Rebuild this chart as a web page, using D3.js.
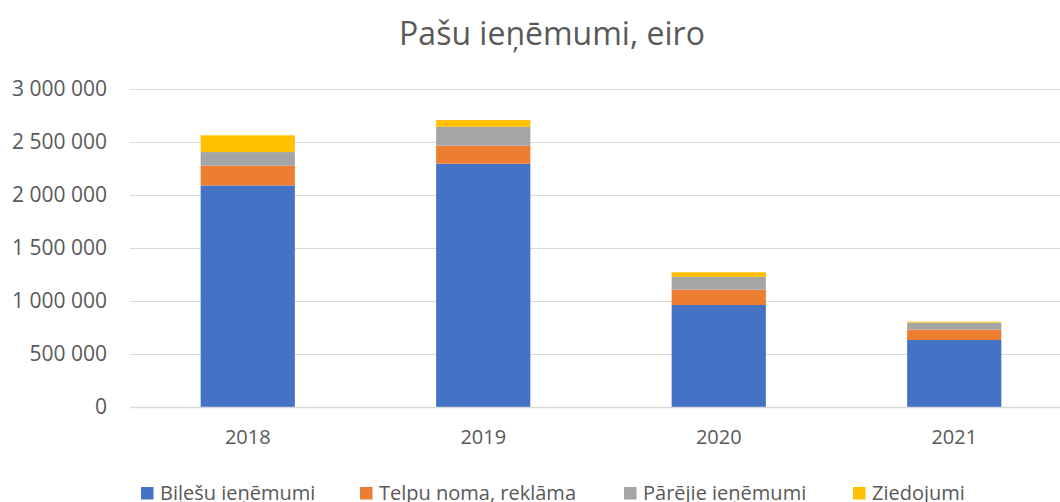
<!DOCTYPE html>
<html>
<head>
<meta charset="utf-8">
<script src="https://cdn.jsdelivr.net/npm/d3@7"></script>
<style>
  body { margin: 0; background: #fff; }
  svg { display: block; font-family: "Open Sans", sans-serif; }
</style>
</head>
<body>
<svg id="chart"></svg>
<script>
// The data
var years = ["2018", "2019", "2020", "2021"];
var seriesNames = ["Biļešu ieņēmumi", "Telpu noma, reklāma", "Pārējie ieņēmumi", "Ziedojumi"];
var bilesu = [2090000, 2295000, 962000, 632000];
var telpu = [186000, 170000, 145000, 98000];
var parejie = [129000, 179000, 120000, 66000];
var ziedojumi = [158000, 63000, 44000, 9000];
var yTicks = [0, 500000, 1000000, 1500000, 2000000, 2500000, 3000000];

var colors = ["#4472c4", "#ed7d31", "#a5a5a5", "#ffc000"];

// Sizes (careful: "top" is taken by window.top)
var width = 1060,
    height = 502,
    plotLeft = 130,
    plotRight = 1072,
    plotTop = 89,
    plotBottom = 407;

var svg = d3.select("svg#chart")
  .attr("width", width)
  .attr("height", height);

// rows for stacking
var rows = years.map(function(y, i) {
  return { year: y, s0: bilesu[i], s1: telpu[i], s2: parejie[i], s3: ziedojumi[i] };
});

var stack = d3.stack().keys(["s0", "s1", "s2", "s3"]);
var layers = stack(rows);

var x = d3.scaleBand()
  .domain(years)
  .range([plotLeft, plotRight])
  .paddingInner(0.6)
  .paddingOuter(0.3);

var y = d3.scaleLinear()
  .domain([0, 3000000])
  .range([plotBottom, plotTop]);

// Title
svg.append("text")
  .attr("x", 552)
  .attr("y", 45)
  .attr("text-anchor", "middle")
  .style("font-size", "32px")
  .style("fill", "#595959")
  .text("Pašu ieņēmumi, eiro");

// Gridlines + y labels
var fmt = function(d) {
  return d3.format(",")(d).replace(/,/g, " ");
};

var yAxis = svg.append("g")
  .attr("transform", "translate(" + plotLeft + ",0)")
  .call(d3.axisLeft(y).tickValues(yTicks).tickSize(-(plotRight - plotLeft)).tickPadding(23).tickFormat(fmt));

yAxis.select(".domain").remove();
yAxis.selectAll(".tick line")
  .attr("stroke", "#d9d9d9")
  .attr("stroke-width", 1.2);
yAxis.selectAll(".tick text")
  .style("font-size", "21px")
  .style("fill", "#595959")
  .style("font-family", "'Open Sans', sans-serif");

// Bars
svg.append("g")
  .selectAll("g")
  .data(layers)
  .enter().append("g")
    .attr("fill", function(d, i) { return colors[i]; })
  .selectAll("rect")
  .data(function(d) { return d; })
  .enter().append("rect")
    .attr("x", function(d) { return x(d.data.year); })
    .attr("width", x.bandwidth())
    .attr("y", function(d) { return y(d[1]); })
    .attr("height", function(d) { return y(d[0]) - y(d[1]); });

// Category axis
var xAxis = svg.append("g")
  .attr("transform", "translate(0," + plotBottom + ")")
  .call(d3.axisBottom(x).tickSize(0).tickPadding(23));
xAxis.select(".domain")
  .attr("stroke", "#d9d9d9")
  .attr("stroke-width", 1.5);
xAxis.selectAll(".tick text")
  .style("font-size", "20px")
  .style("fill", "#595959")
  .style("font-family", "'Open Sans', sans-serif");

// Legend
var legendX = [141, 360, 624, 853];
var legend = svg.append("g")
  .selectAll("g")
  .data(seriesNames)
  .enter().append("g")
    .attr("transform", function(d, i) { return "translate(" + legendX[i] + ",487)"; });

legend.append("rect")
  .attr("width", 12.5)
  .attr("height", 12.5)
  .attr("fill", function(d, i) { return colors[i]; });

legend.append("text")
  .attr("x", 19)
  .attr("y", 13)
  .style("font-size", "20px")
  .style("fill", "#595959")
  .text(function(d) { return d; });
</script>
</body>
</html>
